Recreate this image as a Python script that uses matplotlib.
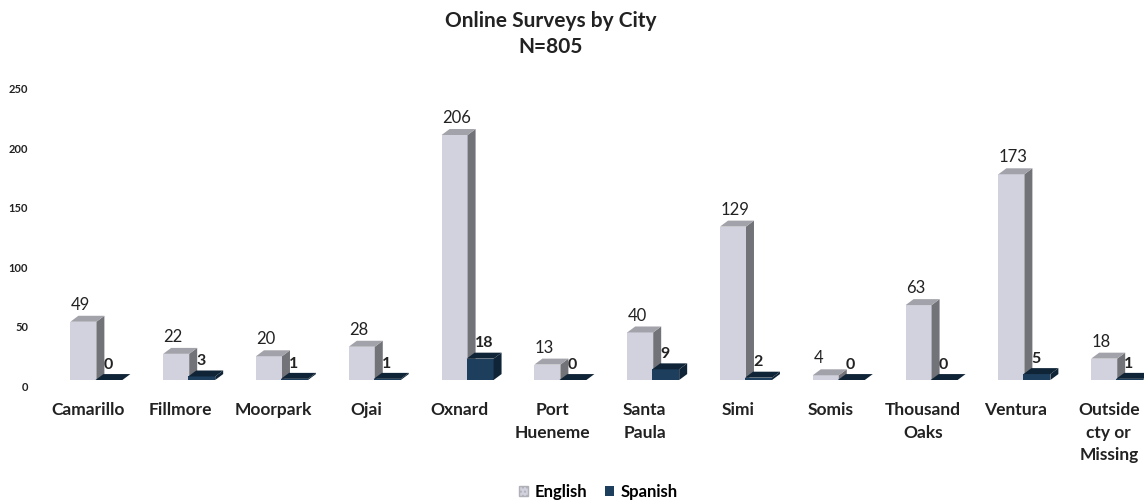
import matplotlib.pyplot as plt
from matplotlib.patches import Polygon, Patch
from matplotlib.transforms import ScaledTranslation

# survey counts per city
cities = ["Camarillo", "Fillmore", "Moorpark", "Ojai", "Oxnard", "Port\nHueneme",
          "Santa\nPaula", "Simi", "Somis", "Thousand\nOaks", "Ventura",
          "Outside\ncty or\nMissing"]
english = [49, 22, 20, 28, 206, 13, 40, 129, 4, 63, 173, 18]
spanish = [0, 3, 1, 1, 18, 0, 9, 2, 0, 0, 5, 1]
yticks = [0, 50, 100, 150, 200, 250]

plt.rcParams['font.family'] = ['Lato', 'DejaVu Sans']

fig = plt.figure(figsize=(11.44, 5.04), dpi=100)
ax = fig.add_axes([0.0364, 0.246, 0.9637, 0.590])
ax.set_xlim(-0.5, 11.38)
ax.set_ylim(0, 250)

# fake 3-d look: front face + side + top
dx, dy = 0.086, 5.0
eng_cols = ("#d2d2de", "#727279", "#a2a2aa")
spa_cols = ("#1d3e5c", "#0f2436", "#0f2436")


def bar3d(x0, x1, v, cols, z):
    front, side, top = cols
    ax.bar((x0 + x1) / 2, v, width=x1 - x0, color=front, zorder=z, linewidth=0)
    ax.add_patch(Polygon([(x1, 0), (x1 + dx, dy), (x1 + dx, v + dy), (x1, v)],
                         closed=True, color=side, zorder=z, linewidth=0))
    ax.add_patch(Polygon([(x0, v), (x0 + dx, v + dy), (x1 + dx, v + dy), (x1, v)],
                         closed=True, color=top, zorder=z, linewidth=0))


for i in range(len(cities)):
    e0, e1 = i - 0.19, i + 0.09
    s0, s1 = i + 0.08, i + 0.37
    bar3d(e0, e1, english[i], eng_cols, 2)
    bar3d(s0, s1, spanish[i], spa_cols, 3)
    ax.text(e0 + 0.005, english[i] + dy + 2.5, str(english[i]), fontsize=12,
            color="#222222", ha="left", va="bottom", zorder=5)
    ax.text(i + 0.165, spanish[i] + 7, str(spanish[i]), fontsize=11.5,
            fontweight="bold", color="#222222", ha="left", va="bottom", zorder=5)

ax.set_xticks(range(len(cities)))
ax.set_xticklabels(cities, fontsize=12.5, fontweight="bold", color="#222222",
                   linespacing=1.5)
ax.tick_params(axis="x", length=0, pad=16)
ax.set_yticks([])

# y tick labels sit a little below the bar floor
off = ScaledTranslation(0, -7 / 100, fig.dpi_scale_trans)
for t in yticks:
    ax.text(-0.0123, t, str(t), transform=ax.get_yaxis_transform() + off,
            ha="right", va="center", fontsize=8, fontweight="bold", color="#222222")

for s in ax.spines.values():
    s.set_visible(False)

fig.text(0.481, 1 - 11 / 504, "Online Surveys by City\nN=805", ha="center", va="top",
         fontsize=15, fontweight="bold", color="#222222", linespacing=1.4)

handles = [Patch(facecolor="#d2d2de", edgecolor="#b0b0b8", hatch="...."),
           Patch(facecolor="#1d3e5c")]
fig.legend(handles, ["English", "Spanish"], loc="center",
           bbox_to_anchor=(0.523, 1 - 492 / 504), ncol=2, frameon=False,
           handlelength=0.55, handleheight=0.55, handletextpad=0.35,
           columnspacing=1.1, prop={"weight": "bold", "size": 12})

fig.savefig("out.png", dpi=100)
